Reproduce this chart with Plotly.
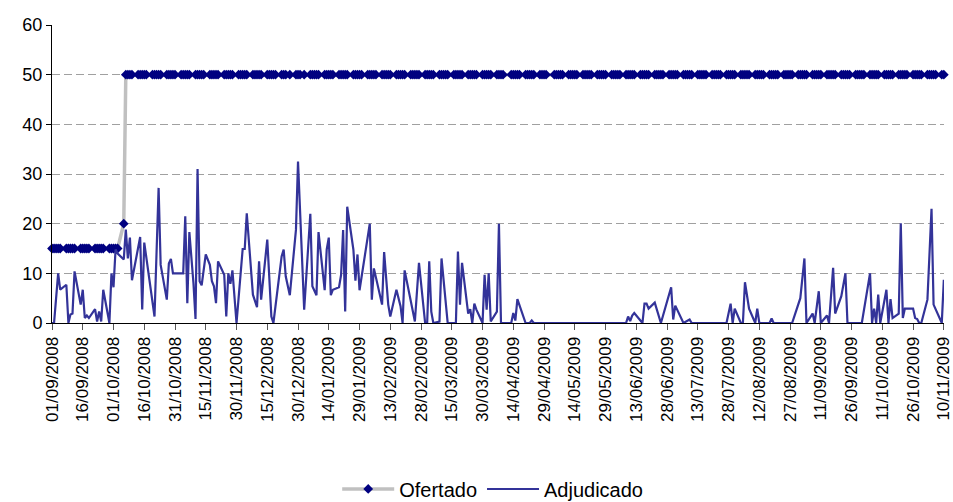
import pandas as pd
import plotly.graph_objects as go

# ---------------- data ----------------
holidays = ["2008-12-25", "2009-01-01", "2009-04-10", "2009-05-01"]
ofertado_dates = [d.strftime("%Y-%m-%d") for d in pd.bdate_range("2008-09-01", "2009-11-10")
                  if d.strftime("%Y-%m-%d") not in holidays]
n_15 = sum(1 for d in ofertado_dates if d <= "2008-10-03")
ofertado_vals = [15] * n_15 + [20] + [50] * (len(ofertado_dates) - n_15 - 1)

adj_dates = [
    "2008-09-01", "2008-09-02", "2008-09-04", "2008-09-05", "2008-09-08", "2008-09-09", "2008-09-10",
    "2008-09-11", "2008-09-12", "2008-09-15", "2008-09-16", "2008-09-17", "2008-09-18", "2008-09-19",
    "2008-09-22", "2008-09-23", "2008-09-24", "2008-09-25", "2008-09-26", "2008-09-29", "2008-09-30",
    "2008-10-01", "2008-10-02", "2008-10-03", "2008-10-06", "2008-10-07", "2008-10-08", "2008-10-09",
    "2008-10-10", "2008-10-14", "2008-10-15", "2008-10-16", "2008-10-21", "2008-10-23", "2008-10-24",
    "2008-10-27", "2008-10-28", "2008-10-29", "2008-10-30", "2008-11-04", "2008-11-05", "2008-11-06",
    "2008-11-07", "2008-11-09", "2008-11-10", "2008-11-11", "2008-11-12", "2008-11-13", "2008-11-15",
    "2008-11-17", "2008-11-18", "2008-11-19", "2008-11-20", "2008-11-21", "2008-11-24", "2008-11-25",
    "2008-11-26", "2008-11-27", "2008-11-28", "2008-11-30", "2008-12-03", "2008-12-04", "2008-12-05",
    "2008-12-08", "2008-12-10", "2008-12-11", "2008-12-12", "2008-12-15", "2008-12-17", "2008-12-18",
    "2008-12-22", "2008-12-23", "2008-12-24", "2008-12-26", "2008-12-29", "2008-12-30", "2009-01-02",
    "2009-01-05", "2009-01-06", "2009-01-08", "2009-01-09", "2009-01-12", "2009-01-13", "2009-01-14",
    "2009-01-15", "2009-01-16", "2009-01-19", "2009-01-20", "2009-01-21", "2009-01-22", "2009-01-23",
    "2009-01-26", "2009-01-27", "2009-01-28", "2009-01-29", "2009-02-03", "2009-02-04", "2009-02-05",
    "2009-02-09", "2009-02-10", "2009-02-12", "2009-02-13", "2009-02-16", "2009-02-18", "2009-02-19",
    "2009-02-20", "2009-02-25", "2009-02-27", "2009-03-02", "2009-03-03", "2009-03-04", "2009-03-05",
    "2009-03-06", "2009-03-09", "2009-03-10", "2009-03-13", "2009-03-17", "2009-03-18", "2009-03-19",
    "2009-03-20", "2009-03-23", "2009-03-24", "2009-03-25", "2009-03-26", "2009-03-27", "2009-03-30",
    "2009-03-31", "2009-04-01", "2009-04-02", "2009-04-03", "2009-04-06", "2009-04-07", "2009-04-08",
    "2009-04-13", "2009-04-14", "2009-04-15", "2009-04-16", "2009-04-20", "2009-04-22", "2009-04-23",
    "2009-04-24", "2009-06-08", "2009-06-09", "2009-06-10", "2009-06-11", "2009-06-12", "2009-06-16",
    "2009-06-17", "2009-06-18", "2009-06-19", "2009-06-22", "2009-06-24", "2009-06-25", "2009-06-30",
    "2009-07-01", "2009-07-02", "2009-07-06", "2009-07-09", "2009-07-10", "2009-07-27", "2009-07-29",
    "2009-07-30", "2009-07-31", "2009-08-03", "2009-08-04", "2009-08-05", "2009-08-07", "2009-08-10",
    "2009-08-11", "2009-08-12", "2009-08-17", "2009-08-18", "2009-08-19", "2009-08-28", "2009-09-01",
    "2009-09-03", "2009-09-04", "2009-09-07", "2009-09-08", "2009-09-10", "2009-09-11", "2009-09-14",
    "2009-09-15", "2009-09-17", "2009-09-18", "2009-09-21", "2009-09-23", "2009-09-24", "2009-10-01",
    "2009-10-05", "2009-10-06", "2009-10-07", "2009-10-08", "2009-10-09", "2009-10-10", "2009-10-13",
    "2009-10-14", "2009-10-15", "2009-10-16", "2009-10-19", "2009-10-20", "2009-10-21", "2009-10-22",
    "2009-10-26", "2009-10-27", "2009-10-28", "2009-10-29", "2009-10-30", "2009-11-02", "2009-11-04",
    "2009-11-05", "2009-11-09", "2009-11-10",
]
adj_vals = [
    0, 0, 10, 6.7, 7.7, 0, 1.7,
    1.9, 10.4, 3.7, 6.7, 1, 1.5, 1,
    2.8, 0.3, 2.3, 0.3, 6.7, 0, 10,
    7.2, 14.8, 14, 12.8, 18.8, 13, 17.2,
    8.6, 17.3, 2.7, 16.2, 1.3, 27.2, 11.7,
    4.7, 12, 12.9, 10, 10, 21.5, 4,
    18.3, 8, 0.8, 31, 8.4, 7.6, 13.8,
    11.7, 8.4, 7.4, 4, 12.4, 9.7, 1.3,
    10, 7.9, 10.6, 0, 14.9, 14.9, 22.1,
    5.7, 3.2, 12.4, 4.7, 16.8, 1.3, 0,
    13.4, 14.8, 9.4, 5.6, 18.8, 32.5, 2.7,
    22, 7.4, 5.6, 18.3, 6.6, 14.8, 17.2,
    5.6, 6.7, 7.2, 9.7, 18.7, 2.3, 23.4,
    14.8, 8.5, 13.8, 6.6, 20, 4.7, 11,
    3.7, 14.3, 3.7, 1.3, 6.7, 3.4, 0,
    10.6, 0.3, 12.1, 0, 0, 12.4, 2.3,
    0, 0.3, 13, 0, 0, 14.4, 3.7,
    12.1, 1.9, 2.8, 0, 3.9, 2.7, 0,
    9.7, 2.7, 10, 0.3, 2.3, 20, 0,
    0, 2, 0.5, 4.8, 0, 0, 0.5,
    0, 0, 1.3, 0.4, 1.5, 2, 0,
    3.9, 3.9, 2.9, 4.1, 1, 0, 7.2,
    0.7, 3.5, 0, 0.7, 0, 0, 3.9,
    0, 2.9, 0, 0, 8.2, 2.9, 0,
    2.9, 0, 0, 0.9, 0, 0, 5,
    13, 0, 1.9, 0, 6.4, 0, 1.5,
    0, 11.1, 1.9, 5.4, 10, 0, 0,
    10, 0, 2.9, 0, 5.7, 0, 6.7,
    0, 4.8, 1, 1.9, 20.1, 1, 2.9,
    2.9, 1, 0.8, 0, 0, 4.7, 23,
    3.7, 0, 8.7,
]

x_ticks_start = "2008-09-01"
x_range = ["2008-09-01", "2009-11-10 02:00"]
y_range = [0, 60]

# ---------------- figure ----------------
FONT = "Liberation Sans, Arial, sans-serif"

fig = go.Figure()
fig.add_trace(go.Scatter(
    x=ofertado_dates, y=ofertado_vals, name="Ofertado", mode="lines+markers",
    line=dict(color="#c0c0c0", width=3.5),
    marker=dict(symbol="diamond", size=7.5, color="#000080"),
    cliponaxis=False,
))
fig.add_trace(go.Scatter(
    x=adj_dates, y=adj_vals, name="Adjudicado", mode="lines",
    line=dict(color="#333399", width=2.2),
))

fig.update_layout(
    width=953, height=502,
    margin=dict(l=52, r=9, t=25, b=179, autoexpand=False),
    paper_bgcolor="white", plot_bgcolor="white",
    font=dict(family=FONT, size=17, color="black"),
    showlegend=True,
    legend=dict(orientation="h", x=0.517, xanchor="center", xref="container",
                y=-0.557, yanchor="middle", yref="paper",
                font=dict(size=20), itemwidth=52, bgcolor="rgba(0,0,0,0)"),
)
fig.update_xaxes(
    type="date", range=x_range, tick0=x_ticks_start, dtick=15 * 86400000,
    tickformat="%d/%m/%Y", tickangle=-90, ticks="outside", ticklen=6,
    tickcolor="#555555", showline=True, linecolor="black", linewidth=1,
    showgrid=False, zeroline=False, tickfont=dict(size=17), automargin=False,
    ticklabeloverflow="allow",
)
fig.update_yaxes(
    range=y_range, dtick=10, ticks="outside", ticklen=5, tickcolor="black",
    showline=True, linecolor="black", linewidth=1,
    showgrid=True, gridcolor="#a0a0a0", griddash="8px,4px", gridwidth=1,
    zeroline=False, tickfont=dict(size=18), automargin=False,
)

# remove the page's default 8px body margin so the figure fills the window exactly
fig.write_html(
    "out.html",
    config={"displayModeBar": False},
    post_script="document.body.style.margin='0';document.documentElement.style.overflow='hidden';",
)
